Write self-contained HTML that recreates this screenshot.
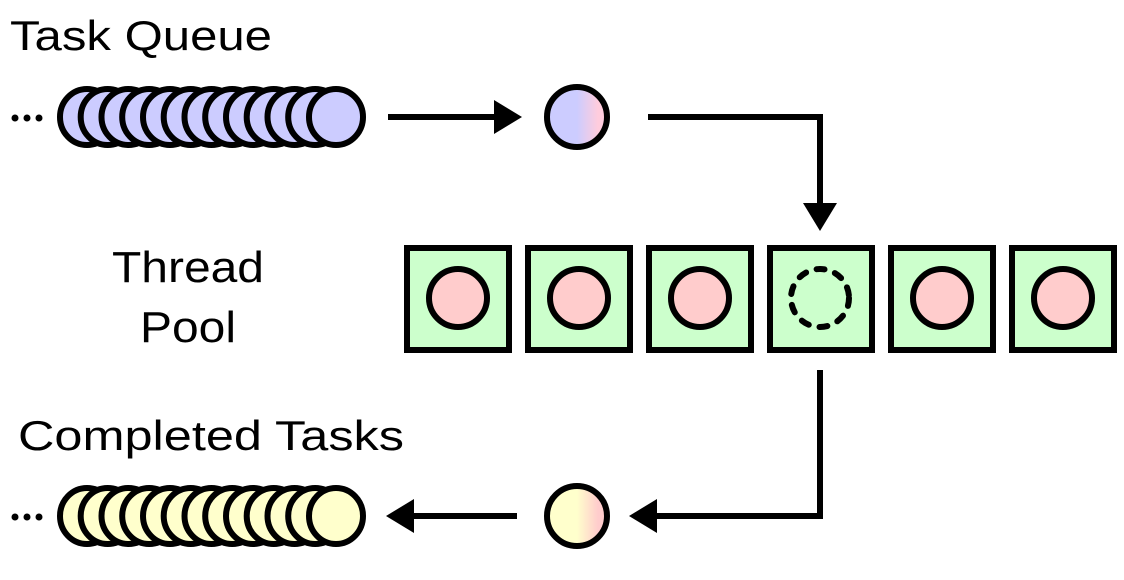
<!DOCTYPE html>
<html><head><meta charset="utf-8"><style>html,body{margin:0;padding:0;background:#fff}svg{display:block}</style></head>
<body>
<svg width="1124" height="580" viewBox="0 0 1124 580" xmlns="http://www.w3.org/2000/svg" font-family="Liberation Sans, sans-serif">
<defs>
<linearGradient id="bp" x1="0" x2="1" y1="0" y2="0"><stop offset="0.5" stop-color="#ccccff"/><stop offset="0.85" stop-color="#ffccdd"/></linearGradient>
<linearGradient id="yp" x1="0" x2="1" y1="0" y2="0"><stop offset="0.5" stop-color="#ffffcc"/><stop offset="0.85" stop-color="#ffcccc"/></linearGradient>
</defs>
<g font-size="42" fill="#000">
<text x="10" y="50" textLength="262" lengthAdjust="spacingAndGlyphs">Task Queue</text>
<text x="188" y="282" text-anchor="middle" font-size="44" textLength="152" lengthAdjust="spacingAndGlyphs">Thread</text>
<text x="188" y="342" text-anchor="middle" font-size="44" textLength="96" lengthAdjust="spacingAndGlyphs">Pool</text>
<text x="18" y="450" textLength="386" lengthAdjust="spacingAndGlyphs">Completed Tasks</text>
</g>
<g fill="#000">
<circle cx="15" cy="118" r="3.5"/><circle cx="27" cy="118" r="3.5"/><circle cx="39" cy="118" r="3.5"/>
<circle cx="15" cy="517" r="3.5"/><circle cx="27" cy="517" r="3.5"/><circle cx="39" cy="517" r="3.5"/>
</g>
<g stroke="#000" stroke-width="6" fill="#ccccff">
<ellipse cx="87" cy="117" rx="27" ry="28"/><ellipse cx="107.7" cy="117" rx="27" ry="28"/><ellipse cx="128.5" cy="117" rx="27" ry="28"/><ellipse cx="149.2" cy="117" rx="27" ry="28"/><ellipse cx="170" cy="117" rx="27" ry="28"/><ellipse cx="190.7" cy="117" rx="27" ry="28"/><ellipse cx="211.5" cy="117" rx="27" ry="28"/><ellipse cx="232.2" cy="117" rx="27" ry="28"/><ellipse cx="253" cy="117" rx="27" ry="28"/><ellipse cx="273.7" cy="117" rx="27" ry="28"/><ellipse cx="294.5" cy="117" rx="27" ry="28"/><ellipse cx="315.2" cy="117" rx="27" ry="28"/><ellipse cx="336" cy="117" rx="27" ry="28"/>
</g>
<g stroke="#000" stroke-width="6" fill="#ffffcc">
<ellipse cx="87" cy="516" rx="27" ry="28"/><ellipse cx="107.7" cy="516" rx="27" ry="28"/><ellipse cx="128.5" cy="516" rx="27" ry="28"/><ellipse cx="149.2" cy="516" rx="27" ry="28"/><ellipse cx="170" cy="516" rx="27" ry="28"/><ellipse cx="190.7" cy="516" rx="27" ry="28"/><ellipse cx="211.5" cy="516" rx="27" ry="28"/><ellipse cx="232.2" cy="516" rx="27" ry="28"/><ellipse cx="253" cy="516" rx="27" ry="28"/><ellipse cx="273.7" cy="516" rx="27" ry="28"/><ellipse cx="294.5" cy="516" rx="27" ry="28"/><ellipse cx="315.2" cy="516" rx="27" ry="28"/><ellipse cx="336" cy="516" rx="27" ry="28"/>
</g>
<ellipse cx="577" cy="117" rx="30" ry="30" fill="url(#bp)" stroke="#000" stroke-width="6"/>
<ellipse cx="577" cy="516" rx="30" ry="30" fill="url(#yp)" stroke="#000" stroke-width="6"/>
<g stroke="#000" stroke-width="6" fill="none">
<line x1="388" y1="117" x2="496" y2="117"/>
<polyline points="648,117 820,117 820,205"/>
<polyline points="820,370 820,516 655,516"/>
<line x1="517" y1="516" x2="412" y2="516"/>
</g>
<g fill="#000">
<polygon points="494,100 522,117 494,134"/>
<polygon points="803,203 820,231 837,203"/>
<polygon points="657,499 629,516 657,533"/>
<polygon points="414,499 386,516 414,533"/>
</g>
<g stroke="#000" stroke-width="6">
<rect x="407" y="248" width="102" height="102" fill="#ccffcc"/>
<rect x="528" y="248" width="102" height="102" fill="#ccffcc"/>
<rect x="649" y="248" width="102" height="102" fill="#ccffcc"/>
<rect x="770" y="248" width="102" height="102" fill="#ccffcc"/>
<rect x="891" y="248" width="102" height="102" fill="#ccffcc"/>
<rect x="1012" y="248" width="102" height="102" fill="#ccffcc"/>
<g fill="#ffcccc">
<circle cx="458" cy="298" r="29"/>
<circle cx="579" cy="298" r="29"/>
<circle cx="700" cy="298" r="29"/>
<circle cx="942" cy="298" r="29"/>
<circle cx="1063" cy="298" r="29"/>
</g>
<circle cx="820" cy="298" r="29" fill="none" stroke-dasharray="8 11" stroke-linecap="round"/>
</g>
</svg>
</body></html>
